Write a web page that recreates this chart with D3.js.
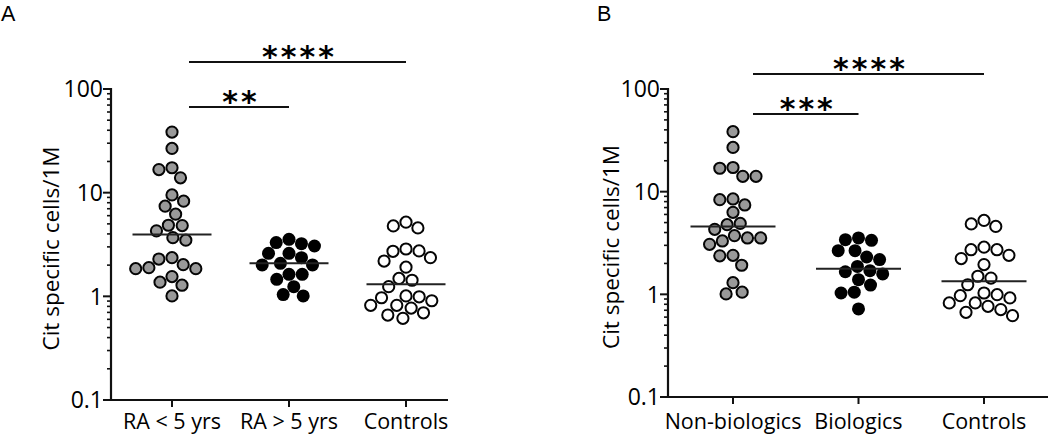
<!DOCTYPE html>
<html>
<head>
<meta charset="utf-8">
<script src="https://cdn.jsdelivr.net/npm/d3@7"></script>
<style>
  html, body { margin: 0; padding: 0; background: #fff; }
  svg { display: block; }
  text { font-family: "Open Sans", "Noto Sans", sans-serif; fill: #000; }
</style>
</head>
<body>
<svg id="chart" width="1050" height="437"></svg>
<script>
// ---------- data ----------
const catsA = ["RA < 5 yrs", "RA > 5 yrs", "Controls"];
const catsB = ["Non-biologics", "Biologics", "Controls"];

const raUnder5 = [38.4, 26.7, 17.4, 16.7, 13.9, 9.52, 8.28, 7.41, 6.20, 4.85, 4.81, 4.28,
                  3.68, 3.48, 2.36, 2.29, 2.02, 1.89, 1.85, 1.85, 1.55, 1.37, 1.28, 1.01];
const raOver5 = [3.55, 3.30, 3.22, 3.06, 2.60, 2.60, 2.36, 2.08, 2.01, 2.01, 1.63, 1.63,
                 1.46, 1.24, 1.04, 1.01];
const controlsA = [5.19, 4.78, 4.57, 2.86, 2.74, 2.72, 2.36, 2.19, 1.91, 1.49, 1.43, 1.24,
                   1.01, 0.99, 0.969, 0.907, 0.819, 0.819, 0.771, 0.694, 0.660, 0.613];

const nonBiologics = [38.4, 27.0, 17.2, 16.9, 14.1, 14.1, 8.49, 8.36, 7.42, 6.29, 4.91, 4.77,
                      4.30, 3.73, 3.54, 3.54, 3.31, 3.07, 2.40, 2.37, 1.92, 1.30, 1.05, 1.01];
const biologics = [3.54, 3.41, 3.36, 2.66, 2.66, 2.31, 2.18, 1.87, 1.70, 1.66, 1.58, 1.39,
                   1.23, 1.05, 1.03, 0.721];
const controlsB = [5.25, 4.85, 4.59, 2.88, 2.72, 2.72, 2.40, 2.23, 1.95, 1.50, 1.44, 1.24,
                   1.03, 0.993, 0.971, 0.923, 0.825, 0.825, 0.764, 0.710, 0.668, 0.620];

const mediansA = [3.94, 2.08, 1.31];
const mediansB = [4.59, 1.77, 1.34];

const yTickValues = [0.1, 1, 10, 100];
const yTickLabels = ["0.1", "1", "10", "100"];

const sigA = [{ from: 0, to: 1, label: "**" }, { from: 0, to: 2, label: "****" }];
const sigB = [{ from: 0, to: 1, label: "***" }, { from: 0, to: 2, label: "****" }];

const groupStyles = ["gray", "black", "open"];

// ---------- drawing ----------
const svg = d3.select("#chart");

function beeswarm(values, yScale, diam) {
  // greedy beeswarm: place each point as close to the centre as possible
  const order = values.map((v, i) => ({ v, i, y: yScale(v) })).sort((a, b) => a.y - b.y);
  const placed = [];
  const out = new Array(values.length);
  let side = 1;
  order.forEach(p => {
    const near = placed.filter(q => Math.abs(q.y - p.y) < diam);
    const cands = [0];
    near.forEach(q => {
      const dx = Math.sqrt(diam * diam - (q.y - p.y) ** 2);
      cands.push(q.x + dx + 0.01, q.x - dx - 0.01);
    });
    const ok = cands.filter(c => near.every(q => Math.hypot(q.x - c, q.y - p.y) >= diam - 0.001));
    ok.sort((a, b) => (Math.abs(a) - Math.abs(b)) || (side * (b - a)));
    const x = ok[0];
    side = -side;
    placed.push({ x, y: p.y });
    out[p.i] = x;
  });
  return out;
}

function drawPanel(opt) {
  const g = svg.append("g");
  const y = d3.scaleLog().domain([0.1, 100]).range([opt.bottom, opt.top]);
  const x = d3.scalePoint().domain(opt.cats).range([opt.firstX, opt.lastX]);

  // y axis
  const minor = [];
  for (let d = 0.1; d < 100; d *= 10) {
    for (let k = 2; k <= 9; k++) minor.push(+(d * k).toPrecision(3));
  }
  g.selectAll(".minor").data(minor).join("line")
    .attr("x1", opt.axisX - 4).attr("x2", opt.axisX)
    .attr("y1", d => y(d)).attr("y2", d => y(d))
    .attr("stroke", "#111").attr("stroke-width", 1.6);
  g.selectAll(".major").data(yTickValues).join("line")
    .attr("x1", opt.axisX - 8).attr("x2", opt.axisX)
    .attr("y1", d => y(d)).attr("y2", d => y(d))
    .attr("stroke", "#111").attr("stroke-width", 2);
  g.selectAll(".ylab").data(yTickValues).join("text")
    .attr("x", opt.axisX - 8).attr("y", d => y(d))
    .attr("dy", "0.36em").attr("text-anchor", "end")
    .style("font-size", "23px")
    .text((d, i) => yTickLabels[i]);
  g.append("line")
    .attr("x1", opt.axisX).attr("x2", opt.axisX)
    .attr("y1", y(100) - 1).attr("y2", opt.bottom + 1)
    .attr("stroke", "#111").attr("stroke-width", 2.2);

  // x axis
  g.append("line")
    .attr("x1", opt.axisX).attr("x2", opt.axisRight)
    .attr("y1", opt.bottom).attr("y2", opt.bottom)
    .attr("stroke", "#111").attr("stroke-width", 2.2);
  g.selectAll(".xt").data(opt.cats).join("line")
    .attr("x1", d => x(d)).attr("x2", d => x(d))
    .attr("y1", opt.bottom).attr("y2", opt.bottom + 7)
    .attr("stroke", "#111").attr("stroke-width", 2);
  g.selectAll(".xlab").data(opt.cats).join("text")
    .attr("x", d => x(d)).attr("y", opt.labelY)
    .attr("text-anchor", "middle")
    .style("font-size", "21.5px")
    .text(d => d);

  // y title
  g.append("text")
    .attr("transform", `translate(${opt.titleX},${(opt.top + opt.bottom) / 2 + 4}) rotate(-90)`)
    .attr("text-anchor", "middle")
    .style("font-size", "22.5px")
    .text("Cit specific cells/1M");

  // panel letter
  g.append("text")
    .attr("x", opt.letterX).attr("y", 20.5)
    .style("font-family", "'Liberation Sans', Arial, sans-serif")
    .style("font-size", "21.5px")
    .text(opt.letter);

  // dots
  opt.groups.forEach((vals, gi) => {
    const offs = beeswarm(vals, y, 13.2);
    const style = groupStyles[gi];
    g.append("g").selectAll("circle").data(vals).join("circle")
      .attr("cx", (d, i) => x(opt.cats[gi]) + offs[i])
      .attr("cy", d => y(d))
      .attr("r", style === "black" ? 6.5 : 5.6)
      .attr("fill", style === "gray" ? "#999999" : style === "black" ? "#000000" : "#ffffff")
      .attr("stroke", style === "black" ? "none" : "#050505")
      .attr("stroke-width", 2);
  });

  // median lines
  g.selectAll(".med").data(opt.medians).join("line")
    .attr("x1", (d, i) => x(opt.cats[i]) - opt.medHalf)
    .attr("x2", (d, i) => x(opt.cats[i]) + opt.medHalf)
    .attr("y1", d => y(d)).attr("y2", d => y(d))
    .attr("stroke", "#222").attr("stroke-width", 2);

  // significance bars
  opt.sig.forEach((s, si) => {
    const ly = opt.sigY[si];
    const x1 = x(opt.cats[s.from]) + opt.sigStart;
    const x2 = x(opt.cats[s.to]);
    g.append("line")
      .attr("x1", x1).attr("x2", x2).attr("y1", ly).attr("y2", ly)
      .attr("stroke", "#111").attr("stroke-width", 2);
    g.append("text")
      .attr("x", (x1 + x2) / 2 + 2).attr("y", ly + 5)
      .attr("text-anchor", "middle")
      .style("font-family", "'DejaVu Sans', sans-serif")
      .style("font-weight", "bold")
      .style("font-size", "30px")
      .style("letter-spacing", "3px")
      .text(s.label);
  });
}

drawPanel({
  cats: catsA, groups: [raUnder5, raOver5, controlsA], medians: mediansA, sig: sigA,
  axisX: 111, axisRight: 448, top: 89, bottom: 400, firstX: 172, lastX: 406, labelY: 429,
  titleX: 59, letter: "A", letterX: 1, medHalf: 39.5, sigStart: 17, sigY: [107, 62]
});
drawPanel({
  cats: catsB, groups: [nonBiologics, biologics, controlsB], medians: mediansB, sig: sigB,
  axisX: 668, axisRight: 1048, top: 89, bottom: 397, firstX: 733, lastX: 984, labelY: 429,
  titleX: 619, letter: "B", letterX: 597, medHalf: 42.5, sigStart: 20, sigY: [114, 74]
});
</script>
</body>
</html>
